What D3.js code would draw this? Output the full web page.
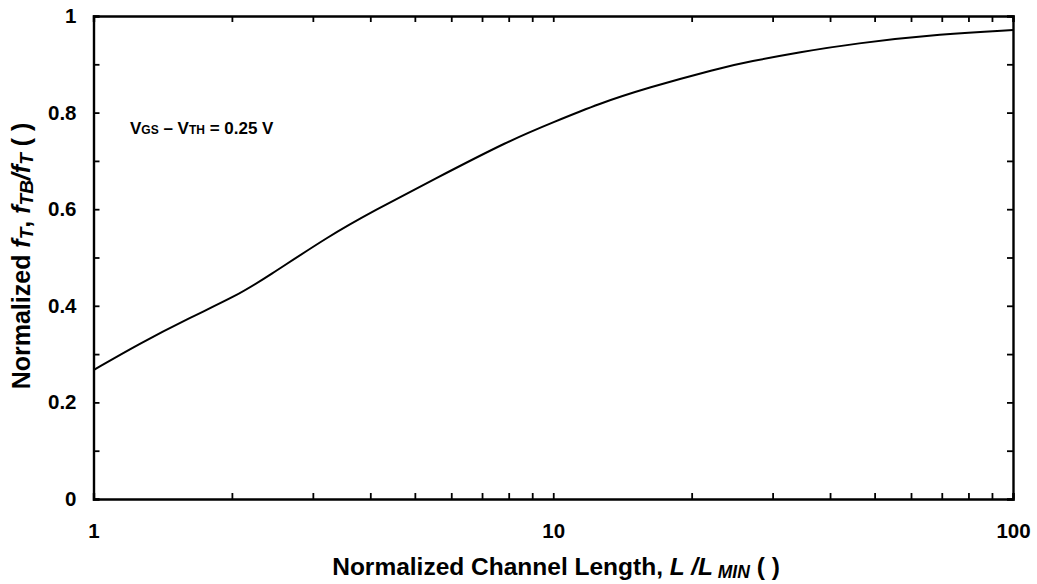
<!DOCTYPE html>
<html>
<head>
<meta charset="utf-8">
<script src="https://cdn.jsdelivr.net/npm/d3@7"></script>
<style>
  body { margin: 0; background: #fff; }
  svg { display: block; font-family: "Liberation Sans", Arial, sans-serif; }
</style>
</head>
<body>
<div id="main"></div>
<script>
// curve: L/Lmin vs normalized fT
const lengthRatio = [1, 1.26, 1.6, 2.05, 2.38, 3.27, 4.06, 5.48, 8.05, 10, 12.6, 16, 22.7, 26.8, 34.4, 44.9, 70.5, 100];
const fTNorm = [0.267, 0.322, 0.373, 0.421, 0.459, 0.546, 0.596, 0.661, 0.743, 0.78, 0.819, 0.851, 0.891, 0.906, 0.925, 0.943, 0.963, 0.971];

const xMajor = [1, 10, 100];
const xMinor = [2, 3, 4, 5, 6, 7, 8, 9, 20, 30, 40, 50, 60, 70, 80, 90];
const yMajor = [0, 0.2, 0.4, 0.6, 0.8, 1];
const yMinor = [0.1, 0.3, 0.5, 0.7, 0.9];

const width = 1037, height = 584;
const margin = {left: 93.5, right: 24, top: 16, bottom: 85};

const svg = d3.select('#main').append('svg')
  .attr('width', width).attr('height', height);

const x = d3.scaleLog().domain([1, 100]).range([margin.left, width - margin.right]);
const y = d3.scaleLinear().domain([0, 1]).range([height - margin.bottom, margin.top]);

const tick = 6;
const fmtY = d => d === 0 || d === 1 ? d3.format('d')(d) : d3.format('.1f')(d);

function styleAxis(g) {
  g.select('.domain').attr('stroke-width', 2.4);
  g.selectAll('.tick line').attr('stroke-width', 1.8);
  g.selectAll('.tick text').attr('font-size', 20.5).attr('font-weight', 'bold').attr('fill', '#000');
}

// left
svg.append('g').attr('transform', `translate(${margin.left},0)`)
  .call(d3.axisLeft(y).tickValues(yMajor).tickSize(-tick).tickPadding(17).tickFormat(fmtY))
  .call(styleAxis);
svg.append('g').attr('transform', `translate(${margin.left},0)`)
  .call(d3.axisLeft(y).tickValues(yMinor).tickSize(-tick).tickFormat(''))
  .call(g => g.select('.domain').remove()).call(styleAxis);
// right
svg.append('g').attr('transform', `translate(${width - margin.right},0)`)
  .call(d3.axisRight(y).tickValues(yMajor.concat(yMinor)).tickSize(-tick).tickFormat(''))
  .call(styleAxis);
// bottom
svg.append('g').attr('transform', `translate(0,${height - margin.bottom})`)
  .call(d3.axisBottom(x).tickValues(xMajor).tickSize(-tick).tickPadding(24).tickFormat(d3.format('d')))
  .call(styleAxis);
svg.append('g').attr('transform', `translate(0,${height - margin.bottom})`)
  .call(d3.axisBottom(x).tickValues(xMinor).tickSize(-tick).tickFormat(''))
  .call(g => g.select('.domain').remove()).call(styleAxis);
// top
svg.append('g').attr('transform', `translate(0,${margin.top})`)
  .call(d3.axisTop(x).tickValues(xMajor.concat(xMinor)).tickSize(-tick).tickFormat(''))
  .call(styleAxis);

// curve
const pts = lengthRatio.map((l, i) => [l, fTNorm[i]]);
svg.append('path')
  .datum(pts)
  .attr('fill', 'none').attr('stroke', '#000').attr('stroke-width', 2)
  .attr('stroke-linejoin', 'round')
  .attr('d', d3.line().x(d => x(d[0])).y(d => y(d[1])).curve(d3.curveBasis));

// annotation
const ann = svg.append('text').attr('x', 130).attr('y', 134)
  .attr('font-size', 17).attr('font-weight', 'bold');
ann.append('tspan').text('V');
ann.append('tspan').attr('font-size', 12).text('GS');
ann.append('tspan').text(' \u2013 V');
ann.append('tspan').attr('font-size', 12).text('TH');
ann.append('tspan').text(' = 0.25 V');

// x title
const xt = svg.append('text').attr('x', 556).attr('y', 575)
  .attr('text-anchor', 'middle').attr('font-size', 24.5).attr('font-weight', 'bold');
xt.append('tspan').text('Normalized Channel Length, ');
xt.append('tspan').attr('font-style', 'italic').text('L /L');
xt.append('tspan').attr('font-style', 'italic').attr('font-size', 17.5).attr('dy', 3).text(' MIN');
xt.append('tspan').attr('dy', -3).text(' ( )');

// y title
const yt = svg.append('text').attr('transform', 'translate(30,256) rotate(-90)')
  .attr('text-anchor', 'middle').attr('font-size', 25).attr('font-weight', 'bold');
yt.append('tspan').text('Normalized ');
yt.append('tspan').attr('font-style', 'italic').text('f');
yt.append('tspan').attr('font-style', 'italic').attr('font-size', 19).attr('dy', 3).text('T');
yt.append('tspan').attr('dy', -3).text(', ');
yt.append('tspan').attr('font-style', 'italic').text('f');
yt.append('tspan').attr('font-style', 'italic').attr('font-size', 19).attr('dy', 3).text('TB');
yt.append('tspan').attr('dy', -3).attr('font-style', 'italic').text('/f');
yt.append('tspan').attr('font-style', 'italic').attr('font-size', 19).attr('dy', 3).text('T');
yt.append('tspan').attr('dy', -3).text(' ( )');
</script>
</body>
</html>
